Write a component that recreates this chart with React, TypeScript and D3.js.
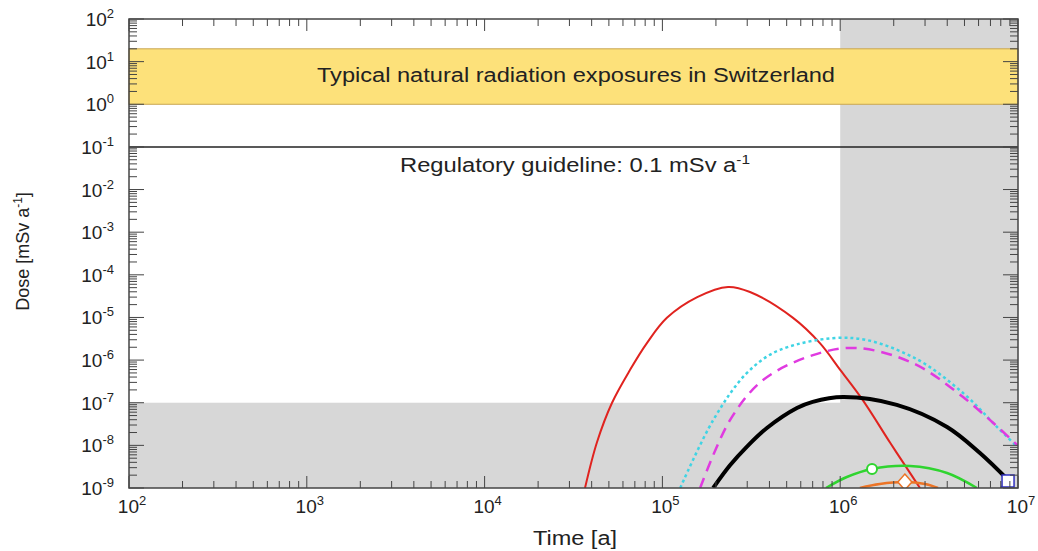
import * as d3 from 'd3';
import React from 'react';

// dose curves: time [a] vs dose [mSv/a]
const redT = [3.67e4, 4.29e4, 5.21e4, 6.58e4, 8.18e4, 1.06e5, 1.57e5, 2.34e5, 3.11e5, 5.43e5, 7.69e5, 1.0e6, 1.34e6, 1.91e6, 2.56e6, 2.81e6];
const redD = [1e-9, 1.2e-8, 1e-7, 5.9e-7, 2.5e-6, 9.8e-6, 3.0e-5, 5.2e-5, 3.95e-5, 9.8e-6, 2.5e-6, 5.9e-7, 1.15e-7, 1.15e-8, 1.8e-9, 1e-9];

const cyanT = [1.26e5, 1.93e5, 2.99e5, 4.58e5, 1.16e6, 2.56e6, 4.91e6, 7.62e6, 9.9e6];
const cyanD = [1e-9, 3.9e-8, 5.0e-7, 1.73e-6, 3.3e-6, 1.18e-6, 1.69e-7, 2.7e-8, 9.2e-9];

const magT = [1.63e5, 2.4e5, 3.68e5, 7.03e5, 1.24e6, 2.56e6, 4.91e6, 9.9e6];
const magD = [1e-9, 3.9e-8, 3.4e-7, 1.31e-6, 1.92e-6, 8.5e-7, 1.36e-7, 1.02e-8];

const blackT = [1.93e5, 2.4e5, 2.99e5, 3.87e5, 5.71e5, 7.0e5, 1.04e6, 2.08e6, 3.99e6, 6.11e6, 8.79e6];
const blackD = [1e-9, 3.4e-9, 9.35e-9, 2.55e-8, 7.5e-8, 1.05e-7, 1.36e-7, 8.9e-8, 2.7e-8, 6.6e-9, 1.54e-9];

const greenT = [8.32e5, 1.09e6, 1.51e6, 2.47e6, 3.99e6, 5.87e6];
const greenD = [1e-9, 1.81e-9, 2.79e-9, 3.28e-9, 2.25e-9, 1e-9];

const orangeT = [1.29e6, 1.67e6, 2.31e6, 3.0e6, 3.55e6];
const orangeD = [1e-9, 1.24e-9, 1.38e-9, 1.24e-9, 1e-9];

const blueT = [8.0e6, 8.79e6];
const blueD = [1e-9, 1.46e-9];

// markers
const greenMark = { t: 1.51e6, d: 2.79e-9 };
const orangeMark = { t: 2.31e6, d: 1.38e-9 };
const blueMark = { t: 8.79e6, d: 1.46e-9 };

const xDecades = [2, 3, 4, 5, 6, 7];
const yDecades = [2, 1, 0, -1, -2, -3, -4, -5, -6, -7, -8, -9];

const natLow = 1, natHigh = 20, guideline = 0.1, greyDose = 1e-7, greyTime = 1e6;

const W = 1038, H = 551;
const m = { left: 129, right: 1018, top: 19, bottom: 488 };
const font = 'Liberation Sans, Arial, sans-serif';

const x = d3.scaleLog().domain([1e2, 1e7]).range([m.left, m.right]);
const y = d3.scaleLog().domain([1e-9, 1e2]).range([m.bottom, m.top]);

const line = (ts: number[], ds: number[]) =>
  d3.line<number>()
    .x((t) => x(t))
    .y((_, i) => y(ds[i]))
    .curve(d3.curveCatmullRom.alpha(0.5))(ts) || '';

const Pow = ({ e, px, py, anchor }: { e: number; px: number; py: number; anchor: string }) => (
  <text x={px} y={py} textAnchor={anchor} fontFamily={font} fontSize={19} fill="#222">
    10<tspan dy={-8} fontSize={13}>{e}</tspan>
  </text>
);

const App = () => {
  const xMinor: number[] = [];
  for (let d = 2; d < 7; d++) for (let k = 2; k < 10; k++) xMinor.push(k * Math.pow(10, d));
  const yMinor: number[] = [];
  for (let d = -9; d < 2; d++) for (let k = 2; k < 10; k++) yMinor.push(k * Math.pow(10, d));

  const series = [
    { t: redT, d: redD, c: '#e0231f', w: 2, dash: undefined },
    { t: cyanT, d: cyanD, c: '#3fd4e4', w: 2.5, dash: '3,3' },
    { t: magT, d: magD, c: '#e03ae0', w: 2.5, dash: '11,7' },
    { t: blackT, d: blackD, c: '#000', w: 4, dash: undefined },
    { t: greenT, d: greenD, c: '#2fd42f', w: 2.5, dash: undefined },
    { t: orangeT, d: orangeD, c: '#ec7426', w: 2.5, dash: undefined },
    { t: blueT, d: blueD, c: '#3030c0', w: 2, dash: undefined },
  ];

  const pw = m.right - m.left, ph = m.bottom - m.top;

  return (
    <svg width={W} height={H} style={{ position: 'absolute', left: 0, top: 0 }}>
      <defs>
        <clipPath id="plot"><rect x={m.left} y={m.top} width={pw} height={ph} /></clipPath>
      </defs>
      <rect x={0} y={0} width={W} height={H} fill="#fff" />
      {/* grey areas */}
      <rect x={x(greyTime)} y={m.top} width={m.right - x(greyTime)} height={ph} fill="#d7d7d7" />
      <rect x={m.left} y={y(greyDose)} width={pw} height={m.bottom - y(greyDose)} fill="#d7d7d7" />
      {/* natural exposure band */}
      <rect x={m.left} y={y(natHigh)} width={pw} height={y(natLow) - y(natHigh)} fill="#fde17a" stroke="#c9a651" strokeWidth={1} />
      <text x={317} y={82} textLength={518} lengthAdjust="spacingAndGlyphs" fontFamily={font} fontSize={20} fill="#222">
        Typical natural radiation exposures in Switzerland
      </text>
      <line x1={m.left} x2={m.right} y1={y(guideline)} y2={y(guideline)} stroke="#222" strokeWidth={1.5} />
      <text x={400} y={172} textLength={350} lengthAdjust="spacingAndGlyphs" fontFamily={font} fontSize={20} fill="#222">
        Regulatory guideline: 0.1 mSv a<tspan dy={-8} fontSize={13}>-1</tspan>
      </text>

      <g clipPath="url(#plot)">
        {series.map((s, i) => (
          <path key={i} d={line(s.t, s.d)} fill="none" stroke={s.c} strokeWidth={s.w} strokeDasharray={s.dash} />
        ))}
        <circle cx={x(greenMark.t)} cy={y(greenMark.d)} r={5} fill="#fff" stroke="#2fd42f" strokeWidth={2} />
        <path
          d={`M${x(orangeMark.t)},${y(orangeMark.d) - 8} l7,8 l-7,8 l-7,-8 z`}
          fill="#fff" stroke="#ec7426" strokeWidth={1.5}
        />
        <rect x={x(blueMark.t) - 6} y={y(blueMark.d) - 6} width={12} height={12} fill="#fff" stroke="#3030c0" strokeWidth={1.5} />
      </g>

      {/* ticks */}
      <g stroke="#444" strokeWidth={1}>
        {xMinor.map((t) => (
          <g key={'xm' + t}>
            <line x1={x(t)} x2={x(t)} y1={m.bottom} y2={m.bottom - 7} />
            <line x1={x(t)} x2={x(t)} y1={m.top} y2={m.top + 7} />
          </g>
        ))}
        {xDecades.map((e) => (
          <g key={'xM' + e}>
            <line x1={x(Math.pow(10, e))} x2={x(Math.pow(10, e))} y1={m.bottom} y2={m.bottom - 12} />
            <line x1={x(Math.pow(10, e))} x2={x(Math.pow(10, e))} y1={m.top} y2={m.top + 12} />
          </g>
        ))}
        {yMinor.map((v) => (
          <g key={'ym' + v}>
            <line x1={m.left} x2={m.left + 8} y1={y(v)} y2={y(v)} />
            <line x1={m.right} x2={m.right - 8} y1={y(v)} y2={y(v)} />
          </g>
        ))}
        {yDecades.map((e) => (
          <g key={'yM' + e}>
            <line x1={m.left} x2={m.left + 15} y1={y(Math.pow(10, e))} y2={y(Math.pow(10, e))} />
            <line x1={m.right} x2={m.right - 15} y1={y(Math.pow(10, e))} y2={y(Math.pow(10, e))} />
          </g>
        ))}
      </g>
      <rect x={m.left} y={m.top} width={pw} height={ph} fill="none" stroke="#444" strokeWidth={1.5} />

      {xDecades.map((e) => (
        <Pow key={'xl' + e} e={e} px={x(Math.pow(10, e)) + 3} py={513} anchor="middle" />
      ))}
      {yDecades.map((e) => (
        <Pow key={'yl' + e} e={e} px={114} py={y(Math.pow(10, e)) + 7} anchor="end" />
      ))}

      <text x={533} y={545} textLength={84} lengthAdjust="spacingAndGlyphs" fontFamily={font} fontSize={20} fill="#222">Time [a]</text>
      <text transform={`translate(29,${(m.top + m.bottom) / 2 - 2}) rotate(-90)`} textAnchor="middle" fontFamily={font} fontSize={18} fill="#222">
        Dose [mSv a<tspan dy={-7} fontSize={12}>-1</tspan><tspan dy={7}>]</tspan>
      </text>
    </svg>
  );
};

export default App;
